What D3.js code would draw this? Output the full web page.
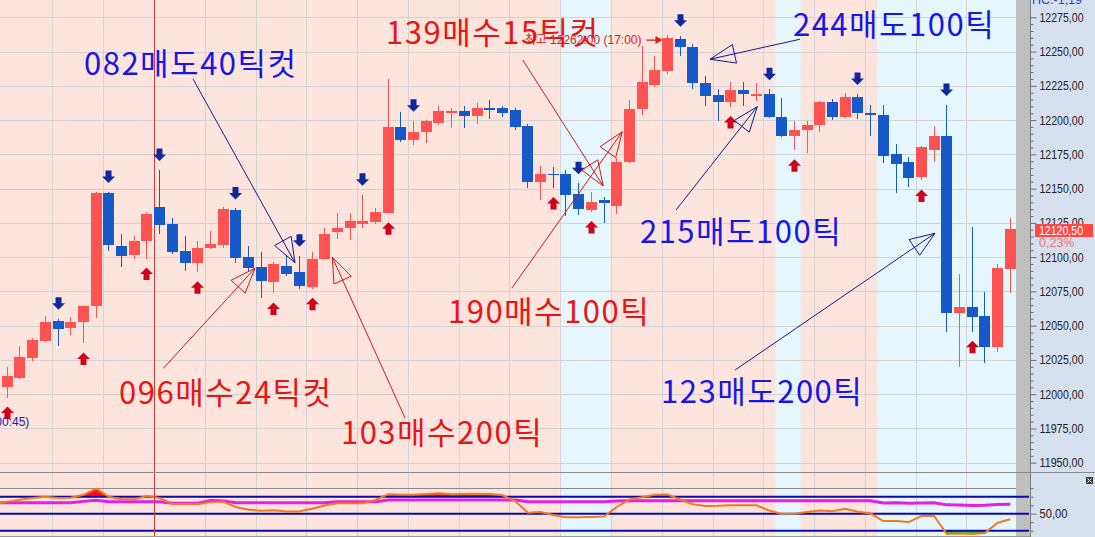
<!DOCTYPE html>
<html><head><meta charset="utf-8">
<script src="https://cdn.jsdelivr.net/npm/d3@7"></script>
<style>html,body{margin:0;padding:0;background:#fff;overflow:hidden}</style>
</head><body>
<svg id="c" width="1095" height="537"></svg>
<script>
// ---------------- DATA ----------------
const firstIndex = -1; // first element = candle just left of the view
const candleLabels = d3.range(-1, 80).map(d => "C" + d);
const opens = [12013,12005.5,12012,12026.5,12039,12053.5,12048,12053,12064,12146.5,12108,12101.5,12111.5,12136.5,12124,12104.5,12095.5,12107,12109,12134.5,12100,12092.5,12082,12093.5,12089,12078.5,12098.5,12118,12121.5,12124.5,12125.5,12132.5,12195,12185.5,12191,12198,12205.5,12206.5,12203,12208.5,12208.5,12207,12195.5,12155,12161,12160.5,12146,12134.5,12141.5,12137.5,12169.5,12208,12225.5,12235.5,12259,12253.5,12227,12218,12213.5,12222,12217.5,12219,12202,12188.5,12192.5,12196.5,12213.5,12202,12217,12205.5,12203.5,12175,12169.5,12158.5,12178,12188.5,12059,12063.5,12057,12034.5,12091.5];
const highs = [12016,12020,12035,12041,12057,12055,12056.5,12065,12147.5,12147.5,12117,12115.5,12133,12163.5,12128.5,12115.5,12112,12119,12136.5,12135.5,12108,12103.5,12096.5,12100.5,12101,12104,12121,12132.5,12132,12145.5,12135.5,12230,12206,12199.5,12200,12210,12208.5,12210,12212.5,12214.5,12210.5,12208.5,12197,12166.5,12165.5,12163.5,12154,12147.5,12144,12172,12215,12254,12247,12262,12261.5,12255.5,12232,12222.5,12228,12228,12227,12222.5,12216,12199.5,12199.5,12214,12215.5,12220,12219,12211,12211,12182.5,12173,12181,12196,12211,12087.5,12122,12074.5,12095,12128.5];
const lows = [12001,11997.5,12011,12024,12038,12035.5,12043,12037,12055.5,12104.5,12093,12099,12099,12117,12102,12090,12089,12106,12106.5,12095.5,12089,12070.5,12073.5,12086,12076.5,12077,12098,12113.5,12112.5,12121,12124,12132,12184,12182,12183,12196.5,12194,12194,12197.5,12200.5,12202.5,12193,12150.5,12142,12150.5,12130,12130.5,12133,12125,12131.5,12168.5,12203.5,12224,12233.5,12247,12222.5,12210.5,12199,12209.5,12210,12214,12201.5,12187.5,12178,12176,12191,12200,12201.5,12201,12188.5,12169,12146.5,12151,12156,12169.5,12045.5,12019.5,12045.5,12023,12031,12073.5];
const closes = [12005.5,12013.5,12027,12039.5,12053,12047.5,12053,12064.5,12147,12108.5,12101,12112,12131.5,12123.5,12104,12095.5,12107,12109.5,12135,12099.5,12092,12082.5,12095,12087.5,12079,12098.5,12117,12121.5,12126.5,12126,12133,12195,12185.5,12191.5,12199,12206.5,12206.5,12203,12209,12207,12205.5,12195,12155,12161,12160,12145.5,12135,12140,12139.5,12169.5,12208,12228,12236.5,12260,12253,12227,12217.5,12213.5,12222,12219,12219,12202.5,12188.5,12193,12196.5,12213.5,12202,12217,12205,12203.5,12174,12168,12158,12180,12188.5,12059,12063.5,12056.5,12034.5,12092,12120.5];
// indicator (oscillator) and its signal line
const oscValues = [60.8,64.2,66.4,68.6,70,68.5,68.9,72.2,79.6,70,66.9,66.9,70.8,68.5,61.4,61.4,61.4,63.4,64.4,57.9,54.6,53.6,54.1,52.7,52.6,55.9,59.6,62.2,62.2,62.2,66.1,72.9,72.4,72.4,73.2,74,72.9,73.2,73.5,73.2,71.6,64.9,51.2,52,48.5,45.8,45.8,46.1,46.7,57.9,66.7,69.3,72.2,72.6,66.7,61.1,59.1,59.3,59.9,59.9,59.9,53.8,49.6,49.9,52,53.8,52.8,55.8,52.4,50.2,41.4,41.4,40.2,47.3,47.3,26.1,26.7,26.1,27.3,39.4,43.4];
const sigValues = [62.9,62.9,62.9,62.9,62.9,62.9,62.9,64.5,65.8,64.1,64.1,64.1,64.1,64.1,62.2,62.2,62.2,65.5,65,62.9,62.9,62.9,62.9,62.9,62.9,62.9,62.9,64.1,64.1,64.1,64.1,66.1,66.1,66.1,66.1,66.1,66.1,66.1,66.1,66.1,66.1,66.1,64.1,64.1,64.1,64.1,64.1,64.1,64.1,64.8,65.3,65.3,65.3,65.3,65.3,65.3,65.3,65.3,65.3,65.3,65.3,65.3,65.3,65.3,65.3,65.3,65.3,65.3,65.3,65.3,62.7,62.9,62.3,62.6,62.9,60.4,60.2,59.6,59.8,60.8,61.0];
const oscLevels = [70, 50, 30];
const buySignals = [0,6,11,15,21,24,30,43,46,57,62,72,76];
const sellSignals = [4,8,12,18,23,28,32,45,53,60,67,74];
const blueSessions = [[44,47],[61,62],[69,79]]; // candle index ranges
const sessionBreak = 11.55;
const priceTicks = d3.range(11950, 12276, 25);
const minorTicks = d3.range(11950, 12276, 5);
const lastPrice = 12120.5, lastChange = "0,23%";
const highNote = {i:52, text:"최고 12262.00 (17:00)"};
const lowNote = {i:0, text:"최저 11997.50 (00:45)"};
const notes = [
  {text:"082매도40틱컷", kind:"sell", ti:6.04, tp:12232.9, si:14.63, sp:12230, ei:22.66, ep:12095.9},
  {text:"096매수24틱컷", kind:"buy", ti:8.80, tp:11992.8, si:12.29, sp:12018.9, ei:19.51, ep:12091.9},
  {text:"103매수200틱", kind:"buy", ti:26.28, tp:11963.7, si:31.33, sp:11982.6, ei:25.6, ep:12099.9},
  {text:"139매수15틱컷", kind:"buy", ti:29.83, tp:12255.5, si:40.6, sp:12243.8, ei:46.94, ep:12151.9},
  {text:"190매수100틱", kind:"buy", ti:34.71, tp:12051.9, si:39.75, sp:12077.5, ei:48.44, ep:12191.5},
  {text:"244매도100틱", kind:"sell", ti:61.88, tp:12261, si:62.44, sp:12259, ei:55.35, ep:12244.4},
  {text:"215매도100틱", kind:"sell", ti:49.83, tp:12110.3, si:52.67, sp:12134.4, ei:59.07, ep:12209.8},
  {text:"123매도200틱", kind:"sell", ti:51.49, tp:11993.6, si:57.32, sp:12017.6, ei:73.07, ep:12117.4}
];

// ---------------- LAYOUT ----------------
const W = 1095, H = 537;
const plotR = 1016, axisX = 1030;
const mainB = 472.5, indT = 473.5, indB = 537;
const svg = d3.select("#c");
const x = d3.scaleLinear().domain([0, 79]).range([7.3, 1010.3]);
const y = d3.scaleLinear().domain([11950, 12275]).range([462.7, 17.3]);
const yi = d3.scaleLinear().domain([30, 70]).range([530.7, 496.7]);
const PINK = "#fde5dd", LBLUE = "#e5f6fd", RED = "#ff5252", BLUE = "#155ac8";
const fmt = v => d3.format(".2f")(v).replace(".", ",");

const defs = svg.append("defs");
defs.append("clipPath").attr("id","cm").append("rect").attr("x",0).attr("y",0).attr("width",plotR).attr("height",mainB);
defs.append("clipPath").attr("id","ci").append("rect").attr("x",0).attr("y",indT).attr("width",plotR).attr("height",indB-indT);
defs.append("clipPath").attr("id","chi").append("rect").attr("x",0).attr("y",indT).attr("width",plotR).attr("height",yi(70)-indT);
defs.append("clipPath").attr("id","clo").append("rect").attr("x",0).attr("y",yi(30)).attr("width",plotR).attr("height",indB-yi(30));

// backgrounds
svg.append("rect").attr("x",0).attr("y",0).attr("width",W).attr("height",H).attr("fill","#d6e0ef");
svg.append("rect").attr("x",0).attr("y",0).attr("width",plotR).attr("height",H).attr("fill",PINK);
svg.append("g").selectAll("rect").data(blueSessions).join("rect")
  .attr("x", d => x(d[0]-0.5)).attr("y",0)
  .attr("width", d => Math.min(plotR, x(d[1]+0.5)) - x(d[0]-0.5)).attr("height",H)
  .attr("fill",LBLUE);
svg.append("rect").attr("x",plotR).attr("y",0).attr("width",axisX-plotR).attr("height",H).attr("fill","#c0c0c0");

// gridlines
const grid = svg.append("g").attr("stroke","#d3d3d3").attr("stroke-width",1).attr("shape-rendering","crispEdges");
grid.selectAll(".h").data(priceTicks).join("line")
  .attr("x1",0).attr("x2",plotR).attr("y1",d=>Math.round(y(d))+0.5).attr("y2",d=>Math.round(y(d))+0.5);
const vIdx = d3.range(0, 20).map(k => 3.55 + 4*k);
grid.selectAll(".v").data(vIdx).join("line")
  .attr("x1",d=>Math.round(x(d))+0.5).attr("x2",d=>Math.round(x(d))+0.5).attr("y1",0).attr("y2",H)
  .attr("display", d => x(d) > plotR ? "none" : null);

// ---------------- INDICATOR PANEL ----------------
const ind = svg.append("g");
ind.append("line").attr("x1",0).attr("x2",plotR).attr("y1",Math.round(yi(80))+0.5).attr("y2",Math.round(yi(80))+0.5)
  .attr("stroke","#8a8a8a").attr("shape-rendering","crispEdges");
const ix = (d,j) => x(j + firstIndex);
const areaHi = d3.area().x(ix).y0(yi(70)).y1(d=>yi(d));
const areaLo = d3.area().x(ix).y0(yi(30)).y1(d=>yi(d));
ind.append("path").datum(oscValues).attr("d",areaHi).attr("fill","#ff1010").attr("clip-path","url(#chi)");
ind.append("path").datum(oscValues).attr("d",areaLo).attr("fill","#22c022").attr("clip-path","url(#clo)");
ind.selectAll(".lvl").data(oscLevels).join("line")
  .attr("x1",0).attr("x2",axisX-1).attr("y1",d=>yi(d)).attr("y2",d=>yi(d))
  .attr("stroke","#0a0aa8").attr("stroke-width",2);
const ln = d3.line().x(ix).y(d=>yi(d));
ind.append("path").datum(sigValues).attr("d",ln).attr("fill","none").attr("stroke","#e61ee6").attr("stroke-width",3).attr("clip-path","url(#ci)");
ind.append("path").datum(oscValues).attr("d",ln).attr("fill","none").attr("stroke","#f07a22").attr("stroke-width",2).attr("clip-path","url(#ci)");

// session break line
svg.append("line").attr("x1",Math.round(x(sessionBreak))+0.5).attr("x2",Math.round(x(sessionBreak))+0.5)
  .attr("y1",0).attr("y2",H).attr("stroke","#c83c3c").attr("stroke-width",1);

// panel separators
svg.append("line").attr("x1",0).attr("x2",W).attr("y1",472.5).attr("y2",472.5).attr("stroke","#8a8a8a");
svg.append("line").attr("x1",0).attr("x2",axisX).attr("y1",536.5).attr("y2",536.5).attr("stroke","#9a9a9a");

// ---------------- CANDLES ----------------
const data = opens.map((o,j)=>({i:j+firstIndex, o, h:highs[j], l:lows[j], c:closes[j], label:candleLabels[j]}));
const cg = svg.append("g").attr("clip-path","url(#cm)").attr("shape-rendering","crispEdges");
const col = d => d.c >= d.o ? RED : BLUE;
cg.selectAll(".w").data(data).join("line")
  .attr("x1",d=>Math.floor(x(d.i))+0.5).attr("x2",d=>Math.floor(x(d.i))+0.5)
  .attr("y1",d=>y(d.h)).attr("y2",d=>y(d.l)).attr("stroke",col);
cg.selectAll(".b").data(data).join("rect")
  .attr("x",d=>Math.floor(x(d.i))-5).attr("width",11)
  .attr("y",d=>y(Math.max(d.o,d.c)))
  .attr("height",d=>Math.max(1.5, Math.abs(y(d.o)-y(d.c))))
  .attr("fill",col);

// signal arrows
const byIdx = i => data[i - firstIndex];
const sg = svg.append("g").attr("clip-path","url(#cm)");
sg.selectAll(".s").data(sellSignals).join("path")
  .attr("d", i => { const cx = Math.floor(x(i))+0.5, t = y(byIdx(i).h) - 21.5;
    return `M${cx-3},${t}L${cx+3},${t}L${cx+3},${t+6}L${cx+6.5},${t+6}L${cx},${t+12.5}L${cx-6.5},${t+6}L${cx-3},${t+6}Z`; })
  .attr("fill","#10289e");
sg.selectAll(".u").data(buySignals).join("path")
  .attr("d", i => { const cx = Math.floor(x(i))+0.5, b = y(byIdx(i).l) + 21.5;
    return `M${cx-3},${b}L${cx+3},${b}L${cx+3},${b-6}L${cx+6.5},${b-6}L${cx},${b-12.5}L${cx-6.5},${b-6}L${cx-3},${b-6}Z`; })
  .attr("fill","#d0021b");

// high / low notes
const hn = byIdx(highNote.i);
const hx = x(highNote.i), hy = y(hn.h) + 5;
svg.append("text").attr("x",hx-26).attr("y",hy+4).attr("text-anchor","end")
  .attr("font-family","'Liberation Sans','Noto Sans CJK KR',sans-serif").attr("font-size",12)
  .attr("fill","#e01818").text(highNote.text);
svg.append("line").attr("x1",hx-21).attr("x2",hx-10).attr("y1",hy).attr("y2",hy).attr("stroke","#e01818").attr("stroke-width",1.3);
svg.append("path").attr("d",`M${hx-5},${hy}L${hx-12},${hy-4}L${hx-12},${hy+4}Z`).attr("fill","#e01818");
const lnn = byIdx(lowNote.i);
svg.append("text").attr("x",x(lowNote.i)+22).attr("y",y(lnn.l)+28).attr("text-anchor","end")
  .attr("font-family","'Liberation Sans','Noto Sans CJK KR',sans-serif").attr("font-size",12)
  .attr("fill","#1a1ab4").text(lowNote.text);

// ---------------- ANNOTATIONS ----------------
const ag = svg.append("g").attr("clip-path","url(#cm)");
notes.forEach(n => {
  const lineCol = n.kind === "sell" ? "#16168e" : "#d21616";
  const textCol = n.kind === "sell" ? "#1616e6" : "#e61616";
  const sx = x(n.si), sy = y(n.sp), ex = x(n.ei), ey = y(n.ep);
  const dx = sx-ex, dy = sy-ey, len = Math.hypot(dx,dy), ux = dx/len, uy = dy/len;
  const L = 25, Wd = 9.5, bx = ex+ux*L, by = ey+uy*L;
  const c1 = [bx - uy*Wd, by + ux*Wd], c2 = [bx + uy*Wd, by - ux*Wd];
  ag.append("path").attr("d",`M${sx},${sy}L${ex},${ey}M${ex},${ey}L${c1[0]},${c1[1]}L${c2[0]},${c2[1]}Z`)
    .attr("fill","none").attr("stroke",lineCol).attr("stroke-width",1);
  ag.append("text").attr("x",x(n.ti)).attr("y",y(n.tp))
    .attr("font-family","'Noto Sans CJK KR',sans-serif").attr("font-size",31)
    .attr("letter-spacing","1.5px")
    .attr("fill",textCol).text(n.text);
});

// ---------------- AXES ----------------
svg.append("line").attr("x1",axisX+0.5).attr("x2",axisX+0.5).attr("y1",0).attr("y2",H).attr("stroke","#7a7a7a");
const ax = svg.append("g").attr("transform",`translate(${axisX+0.5},0)`);
ax.call(d3.axisRight(y).tickValues(minorTicks.filter(v=>v%25!==0)).tickSize(3).tickFormat(""))
  .call(g=>g.select(".domain").remove());
const ax2 = svg.append("g").attr("transform",`translate(${axisX+0.5},0)`);
ax2.call(d3.axisRight(y).tickValues(priceTicks).tickSize(6).tickFormat(fmt))
  .call(g=>g.select(".domain").remove());
[ax, ax2].forEach(g => { g.selectAll("line").attr("stroke","#6e6e6e"); });
ax2.selectAll("text").attr("x",9).attr("fill","#222").attr("font-size",12.5)
  .attr("font-family","'Liberation Sans',sans-serif").attr("textLength",44).attr("lengthAdjust","spacingAndGlyphs");

const ai = svg.append("g").attr("transform",`translate(${axisX+0.5},0)`);
ai.call(d3.axisRight(yi).tickValues([30,40,60,70,80]).tickSize(3).tickFormat(""))
  .call(g=>g.select(".domain").remove());
const ai2 = svg.append("g").attr("transform",`translate(${axisX+0.5},0)`);
ai2.call(d3.axisRight(yi).tickValues([50]).tickSize(6).tickFormat(fmt)).call(g=>g.select(".domain").remove());
[ai, ai2].forEach(g => g.selectAll("line").attr("stroke","#6e6e6e"));
ai2.selectAll("text").attr("x",9).attr("fill","#222").attr("font-size",12.5)
  .attr("font-family","'Liberation Sans',sans-serif").attr("textLength",28).attr("lengthAdjust","spacingAndGlyphs");

// last price label
const py = y(lastPrice) + 1.5;
svg.append("rect").attr("x",1035).attr("y",py-6.5).attr("width",58).attr("height",13).attr("fill","#ff4848");
svg.append("text").attr("x",1039).attr("y",py).attr("dy","0.36em").attr("fill","#fff").attr("font-size",12.5)
  .attr("font-family","'Liberation Sans',sans-serif").attr("textLength",44).attr("lengthAdjust","spacingAndGlyphs").text(fmt(lastPrice));
svg.append("text").attr("x",1039).attr("y",py+12).attr("dy","0.36em").attr("fill","#f07070").attr("font-size",12.5)
  .attr("font-family","'Liberation Sans',sans-serif").text(lastChange);
// top-right cut label
svg.append("text").attr("x",1032).attr("y",4).attr("fill","#2848b0").attr("font-size",12.5)
  .attr("font-family","'Liberation Sans',sans-serif").text("HC:-1,19");
// small close box in indicator panel
svg.append("rect").attr("x",1086).attr("y",477).attr("width",7).attr("height",7).attr("fill","#3c3c3c");
svg.append("path").attr("d","M1087.5,478.5L1091.5,482.5M1091.5,478.5L1087.5,482.5").attr("stroke","#fff").attr("stroke-width",1);
</script>
</body></html>
